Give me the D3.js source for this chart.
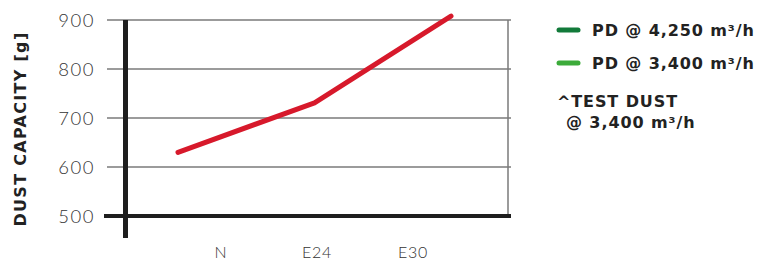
<!DOCTYPE html>
<html>
<head>
<meta charset="utf-8">
<script src="https://cdn.jsdelivr.net/npm/d3@7"></script>
<style>
  body { margin: 0; background: #fff; }
  svg { display: block; }
</style>
</head>
<body>
<svg id="chart" width="768" height="264"></svg>
<script>
var categories = ['N', 'E24', 'E30'];
var dustCapacity = [630, 731, 908];
var yTicks = [500, 600, 700, 800, 900];
var legendItems = ['PD @ 4,250 m³/h', 'PD @ 3,400 m³/h'];
var legendColors = ['#127a3a', '#3cab3a'];

var svg = d3.select('#chart');

var y = d3.scaleLinear().domain([500, 900]).range([216, 20]);
var xLabel = d3.scalePoint().domain(categories).range([221, 413]);
var xLine = d3.scalePoint().domain(categories).range([178, 451]);

// grid lines
svg.append('g').selectAll('line')
    .data(yTicks.slice(1))
  .enter().append('line')
    .attr('x1', 107).attr('x2', 511)
    .attr('y1', function(d) { return y(d); })
    .attr('y2', function(d) { return y(d); })
    .attr('stroke', '#7a7a7a').attr('stroke-width', 1.5);

// right border
svg.append('line')
    .attr('x1', 508).attr('x2', 508)
    .attr('y1', y(900)).attr('y2', y(500))
    .attr('stroke', '#7a7a7a').attr('stroke-width', 1.5);

// axes
svg.append('line')
    .attr('x1', 104).attr('x2', 511)
    .attr('y1', y(500)).attr('y2', y(500))
    .attr('stroke', '#1e1e1e').attr('stroke-width', 4);
svg.append('line')
    .attr('x1', 125.5).attr('x2', 125.5)
    .attr('y1', y(900)).attr('y2', 238)
    .attr('stroke', '#1e1e1e').attr('stroke-width', 5);

// y tick labels
svg.append('g').selectAll('text')
    .data(yTicks)
  .enter().append('text')
    .attr('x', 95)
    .attr('y', function(d) { return y(d); })
    .attr('dy', '0.36em')
    .attr('text-anchor', 'end')
    .style('font-family', 'Lato, sans-serif')
    .style('font-weight', 300)
    .style('font-size', '18.5px')
    .style('letter-spacing', '1.5px')
    .style('fill', '#333')
    .text(function(d) { return d; });

// x labels
svg.append('g').selectAll('text')
    .data(categories)
  .enter().append('text')
    .attr('x', function(d) { return xLabel(d); })
    .attr('y', 258)
    .attr('text-anchor', 'middle')
    .style('font-family', 'Lato, sans-serif')
    .style('font-weight', 300)
    .style('font-size', '16px')
    .style('letter-spacing', '0.8px')
    .style('fill', '#333')
    .text(function(d) { return d; });

// y title
svg.append('text')
    .attr('transform', 'translate(26,129) rotate(-90)')
    .attr('text-anchor', 'middle')
    .style('font-family', '"DejaVu Sans", sans-serif')
    .style('font-weight', 700)
    .style('font-size', '16px')
    .style('letter-spacing', '1.3px')
    .style('fill', '#222')
    .text('DUST CAPACITY [g]');

// data line
var line = d3.line()
    .x(function(d, i) { return xLine(categories[i]); })
    .y(function(d) { return y(d); });
svg.append('path')
    .datum(dustCapacity)
    .attr('d', line)
    .attr('fill', 'none')
    .attr('stroke', '#d7192b')
    .attr('stroke-width', 5)
    .attr('stroke-linecap', 'round')
    .attr('stroke-linejoin', 'round');

// legend
var legend = svg.append('g').selectAll('g')
    .data(legendItems)
  .enter().append('g')
    .attr('transform', function(d, i) { return 'translate(557,' + (30 + i * 33) + ')'; });
legend.append('line')
    .attr('x1', 2).attr('x2', 21)
    .attr('stroke', function(d, i) { return legendColors[i]; })
    .attr('stroke-width', 5)
    .attr('stroke-linecap', 'round');
legend.append('text')
    .attr('x', 35)
    .attr('dy', '0.36em')
    .style('font-family', '"DejaVu Sans", sans-serif')
    .style('font-weight', 700)
    .style('font-size', '16px')
    .style('letter-spacing', '0.9px')
    .style('fill', '#222')
    .text(function(d) { return d; });

var note = svg.append('text')
    .style('font-family', '"DejaVu Sans", sans-serif')
    .style('font-weight', 700)
    .style('font-size', '16px')
    .style('letter-spacing', '0.9px')
    .style('fill', '#222');
note.append('tspan').attr('x', 557).attr('y', 107).text('^TEST DUST');
note.append('tspan').attr('x', 566).attr('y', 128).text('@ 3,400 m³/h');
</script>
</body>
</html>
